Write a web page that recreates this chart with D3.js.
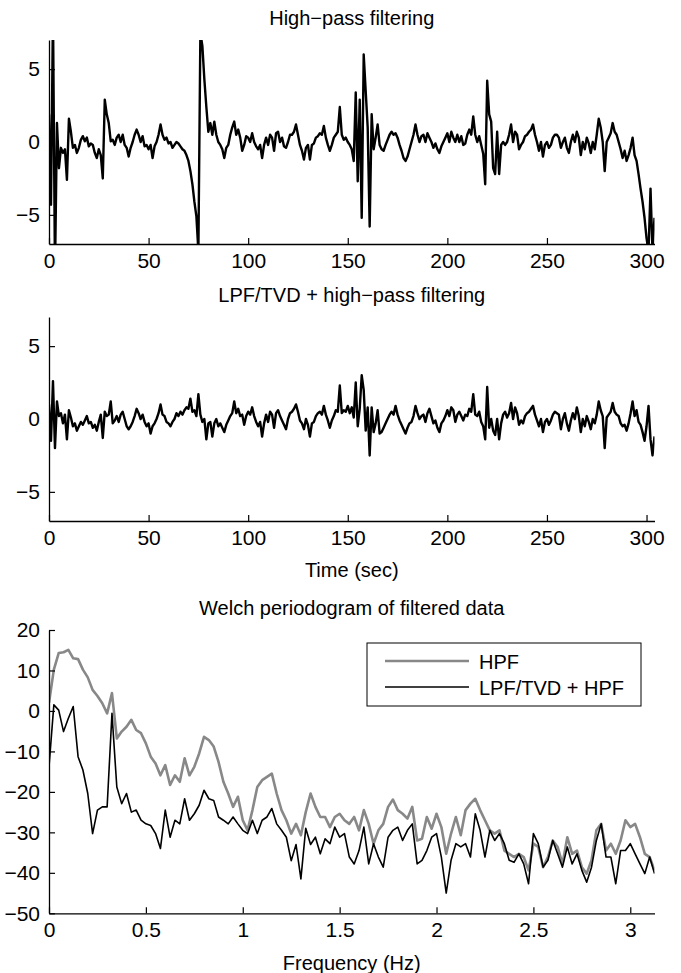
<!DOCTYPE html>
<html>
<head>
<meta charset="utf-8">
<script src="https://cdn.jsdelivr.net/npm/d3@7"></script>
<style>
  body { margin: 0; background: #fff; }
  svg text { font-family: "Liberation Sans", Arial, Helvetica, sans-serif; fill: #000; }
</style>
</head>
<body>
<div id="chart"></div>
<script>
// ---- data ----
// filtered signals, one sample per second, 0..304 s
const dt = 1;
const hpfSignal = [
  1.9, -4.3, 9, -9, 1.3, -1.8, -0.4, -0.75, -0.5, -2.6,
  1.6, 0.7, -0.4, -0.2, -0.75, -0.4, 0.15, 0.4, 0.05, 0.3,
  -0.3, -0.1, -0.2, -0.75, -1.1, -0.5, -0.9, -2.5, 2.9, 1.9,
  1.3, 0.05, 0.15, -0.2, 0.3, 0.5, 0, 0.5, -0.2, -0.4,
  -1.0, -0.4, 0, 0.5, 0.85, 0.5, 0, 0.4, -0.3, -0.2,
  -0.5, -0.2, -1.1, -0.3, 0, 0.5, 1.2, 0.5, 0.15, 0.3,
  -0.1, 0, -0.4, -0.2, 0, -0.1, -0.3, -0.5, -0.6, -0.9,
  -1.3, -2.0, -2.9, -4.1, -5.1, -7.5, 7.5, 6.6, 4.3, 2.4,
  0.7, 1.3, 0.5, 1.4, 0.5, 0, -0.2, -0.5, -1.1, -0.4,
  -0.2, 0.5, 1.0, 1.4, 0.5, 0.85, 0.3, -0.6, -0.2, 0.4,
  0.3, 0, 0.6, 0, -0.3, -0.5, -0.2, -1.1, -0.2, 0.3,
  -0.2, 0.5, 0.3, -0.6, 0.6, 0.7, 0, 0.3, -0.3, -0.4,
  0, 0.5, 0.5, 0.7, 1.2, 0.5, -0.2, -0.6, -1.2, -0.4,
  -0.2, -1.2, -0.2, -0.1, 0.3, 0.4, 0.6, 0.5, 1.1, 0.3,
  -0.2, -0.6, -0.2, 0.3, 0.5, 0.7, 2.4, 0.5, 0.15, 0.3,
  0, -0.2, -0.5, -1.3, 3.4, -2.7, 2.9, -5.2, 6.0, 3.5,
  1.0, -5.8, 1.9, -0.5, 0.3, 1.2, -0.2, -0.5, -0.6, -0.2,
  0.15, 0.5, 0.7, 0.5, 0.6, 0.3, -0.2, -0.6, -1.1, -1.3,
  -1.0, -0.5, 0, 0.5, 1.2, 0.5, 0, 0.4, 0.5, 0,
  0.6, 0.3, 0, -0.4, -0.1, -0.5, -0.75, -0.3, 0, 0.3,
  0.6, 0, 0.7, 0.3, 0, 0.5, 0, 0.4, -0.2, -0.1,
  0.5, 0.85, 0.5, 1.75, 0.5, 0, 0.4, -0.2, -0.8, -2.9,
  4.2, 1.9, 1.4, -1.8, -2.2, 0.7, -2.2, -0.2, 0, -0.2,
  0, 0.5, 1.2, 0, 0.7, 0.5, -0.5, -0.2, 0, 0.4,
  0.5, 0.7, 0.85, 1.2, 0.5, 0, -0.6, 0, -1.0, -0.2,
  0, -0.4, -0.2, 0.3, 0.5, 0.5, 0.3, -0.4, 0, 0.3,
  -0.4, -0.75, 0, 0.5, 0, 0.7, 0.3, -0.9, 0, -0.5,
  0.3, -0.1, -0.75, 0, -0.5, 0.5, 1.6, 1.0, 0, -2.0,
  0, 0.3, 0.6, 1.3, 0.7, 0.5, 0, -0.5, -1.1, -0.6,
  -1.3, -0.9, -0.4, 0.3, -0.9, -1.3, -2.2, -3.2, -4.1, -5.2,
  -6.6, -7.5, -3.2, -7.5, -5.2
];
const tvdSignal = [
  1.0, -1.5, 2.6, -2.0, 1.2, 0.2, 0.4, -0.3, 0.3, -1.4,
  0.6, 0.1, -0.5, -0.3, -0.8, -0.5, -0.2, -0.4, -0.1, 0.2,
  -0.3, -0.2, -0.6, -0.4, -0.8, -0.2, 0.3, -1.3, 0.5, 0.2,
  0.3, 1.2, -0.3, -0.1, 0.2, -0.2, 0.3, 0.5, 0, -0.5,
  -0.7, -0.5, -0.2, 0.2, 0.7, 0.4, 0, 0.3, -0.2, -0.5,
  -0.3, -1.0, -0.5, -0.3, 0, 0.4, 1.0, 0.3, 0.2, -0.2,
  -0.3, -0.5, -0.2, 0, 0.4, 0.2, 0.5, 0.3, 0.6, 0.8,
  0.7, 1.4, 0.5, 0.6, 0.2, 1.7, 0.3, -0.2, 0, -1.4,
  -0.3, -0.2, -1.2, -0.3, 0, -0.5, -0.3, -0.6, -0.9, -0.4,
  -0.1, 0.2, 0.4, 1.2, 0.4, 0.7, 0.2, 0.3, -0.4, 0.2,
  0.5, 0.3, 0.8, 0.2, -0.2, -0.5, -0.2, -1.2, -0.3, 0.3,
  -0.2, 0.5, 0.3, -0.6, 0.4, 0.6, 0.2, -0.1, -0.4, -0.7,
  0, 0.4, 0.5, 0.7, 1.0, 0.5, -0.1, -0.3, -0.7, 0,
  -0.4, -1.2, -0.3, -0.2, 0.2, 0.4, 0.5, 0.3, 0.9, 0.3,
  -0.1, -0.6, -0.1, 0.2, 0.6, 0.5, 2.3, 0.4, 0.6, 0.5,
  0.9, 0.4, 0.8, 0.1, 2.5, -0.5, 0.7, 3.0, 2.0, -0.8,
  0.8, -2.5, 0.8, -0.9, -0.3, 0.6, -1.0, -0.9, -0.6, -0.3,
  0, 0.3, 0.5, 0.3, 0.9, 0.3, -0.1, -0.4, -0.7, -1.0,
  -0.6, -0.3, -0.2, 0.2, 0.9, 0.4, 0, 0.2, 0.3, -0.2,
  0.4, 0.7, 0.2, -0.3, -0.1, -0.6, -0.9, -0.3, -0.1, 0.2,
  0.6, 0.2, 0.8, 0.6, -0.2, 0.3, 0.5, 0.2, -0.1, 0.3,
  0.2, 0.7, 0.5, 1.7, 0.3, 0.2, 0.5, -0.2, -0.5, -1.4,
  2.2, -0.6, 0, -0.8, -1.1, 0, -1.4, -0.3, 0.3, 0.5,
  0.1, 0.4, 1.1, 0, 0.8, 0.4, -0.4, -0.1, -0.3, 0.2,
  0.4, 0.5, 0.7, 0.9, 0.3, -0.1, -0.5, 0, -0.9, -0.2,
  0, -0.4, -0.1, 0.3, 0.5, 0.4, 0.3, -0.7, 0, 0.4,
  -0.3, -0.8, -0.1, 0.4, 0, 0.8, 0.2, -0.9, 0, -0.5,
  0.2, -0.2, -0.7, 0, -0.3, 0.3, 1.2, 0.6, 0.2, -2.0,
  0.1, 0.3, 0.5, 1.1, 0.5, 0.3, 0.2, -0.3, -0.5, -0.4,
  -0.8, -0.3, 0.4, 1.2, 0.2, 0.6, -0.2, -0.4, -0.9, -1.5,
  -0.5, 0.9, -1.4, -2.5, -1.2
];

// Welch periodogram (dB), 0..3.125 Hz every 0.025 Hz
const df = 0.025;
const psdHpf = [
  2, 10.2, 14.3, 14.5, 15.1, 13, 12.8, 10.2, 8.3, 5.2,
  3.7, 1.9, -0.6, 4.4, -6.8, -5.1, -3.9, -2.2, -4.7, -5.5,
  -8, -11.3, -13, -15.9, -13.4, -18.3, -15.9, -17.5, -11.7, -15.9,
  -13.8, -10.5, -6.4, -7.2, -8.8, -12.6, -17.5, -20.4, -23.7, -21.2,
  -27, -29.5, -24.5, -18.8, -17.1, -16.3, -15.5, -20.4, -24.5, -27,
  -30.3, -27.9, -30.7, -25, -20.4, -23.7, -26.2, -26.2, -28.7, -26.2,
  -25.4, -27, -27.9, -26.2, -29.5, -24.5, -27.9, -32.8, -29.5, -27.9,
  -23.7, -21.9, -24.5, -25.4, -26.6, -23.7, -32, -31.6, -26.2, -29.1,
  -25.4, -28.7, -35.3, -30.3, -26.2, -30.7, -24.5, -22.9, -21.7, -24.5,
  -27, -29.5, -30.3, -29.5, -34.5, -35.3, -36.1, -35.3, -36.1, -39.4,
  -32.8, -33.6, -38.6, -36.1, -32, -33.6, -37.8, -31.2, -35.3, -34.5,
  -38.6, -40.2, -36.9, -29.5, -27.9, -34.5, -32.8, -35.3, -32, -27,
  -28.7, -27.9, -31.2, -35.3, -36.1, -39.4
];
const psdTvd = [
  -13.8, 1.5, 0.2, -5.1, -1.8, 1.1, -11.3, -14.6, -20.4, -30.3,
  -24.5, -23.7, -23.7, -0.6, -18.8, -22.9, -20.4, -25, -24.5, -27,
  -27.9, -28.3, -30.3, -34, -24.5, -31.2, -27, -27.9, -21.7, -27,
  -25.4, -23.3, -19.6, -21.7, -22.1, -26.2, -27, -27.9, -26.2, -27.9,
  -29.5, -30.3, -27, -30.3, -27, -26.2, -24.1, -27.9, -29.5, -31.2,
  -37, -33, -41.5, -29, -33, -31.2, -35.3, -31.6, -32.8, -28.7,
  -31.2, -30.3, -36.1, -37.8, -34.5, -28.7, -37.8, -32.8, -36.1, -38.6,
  -31.2, -29.5, -28.7, -32, -29.5, -27.9, -37.8, -36.9, -34.5, -31.2,
  -30.3, -36.1, -45, -36.9, -32.8, -33.6, -32.8, -36.1, -25.4, -29.5,
  -36.1, -29.5, -32, -30.3, -32.8, -36.9, -37.4, -35.3, -37.8, -42.7,
  -30.3, -32.8, -38.6, -36.9, -32, -35.3, -38.6, -33.6, -37.8, -35.3,
  -39.4, -42.3, -38.6, -32, -27.9, -36.1, -36.1, -42.7, -34.5, -34.5,
  -32.8, -35.3, -37.8, -40.2, -36.1, -40.2
];

const timeTicks = [0, 50, 100, 150, 200, 250, 300];
const ampTicks = [-5, 0, 5];
const freqTicks = [0, 0.5, 1, 1.5, 2, 2.5, 3];
const dbTicks = [-50, -40, -30, -20, -10, 0, 10, 20];
const legendNames = ["HPF", "LPF/TVD + HPF"];
const legendColors = ["#888888", "#000000"];

// ---- drawing ----
const W = 681, H = 973;
const left = 49, right = 654.5;
const fontSize = 20, tickFontSize = 21;

const svg = d3.select("#chart").append("svg")
  .attr("width", W)
  .attr("height", H);

const fmt = d3.format("~g");

function axes(x, y, xTicks, yTicks) {
  const gx = svg.append("g")
    .attr("transform", "translate(0," + y.range()[0] + ")")
    .call(d3.axisBottom(x).tickValues(xTicks).tickFormat(fmt)
      .tickSizeInner(-6).tickSizeOuter(0).tickPadding(9));
  const gy = svg.append("g")
    .attr("transform", "translate(" + x.range()[0] + ",0)")
    .call(d3.axisLeft(y).tickValues(yTicks).tickFormat(fmt)
      .tickSizeInner(-6).tickSizeOuter(0).tickPadding(9));
  [gx, gy].forEach(function (g) {
    g.attr("font-size", tickFontSize).attr("font-family", null);
    g.select(".domain").attr("stroke", "#000").attr("stroke-width", 1.3);
    g.selectAll(".tick line").attr("stroke", "#000").attr("stroke-width", 1.2);
  });
}

function title(txt, cx, baseline) {
  svg.append("text")
    .attr("x", cx)
    .attr("y", baseline)
    .attr("text-anchor", "middle")
    .attr("font-size", fontSize)
    .text(txt);
}

function clip(id, x, y) {
  svg.append("clipPath").attr("id", id)
    .append("rect")
    .attr("x", x.range()[0])
    .attr("y", y.range()[1])
    .attr("width", x.range()[1] - x.range()[0])
    .attr("height", y.range()[0] - y.range()[1]);
}

// panels 1 and 2: time signals
const xTime = d3.scaleLinear().domain([0, 304]).range([left, right]);

function signalPanel(values, top, bottom, name, id) {
  const y = d3.scaleLinear().domain([-7, 7]).range([bottom, top]);
  clip(id, xTime, y);
  svg.append("path")
    .datum(values)
    .attr("clip-path", "url(#" + id + ")")
    .attr("fill", "none")
    .attr("stroke", "#000")
    .attr("stroke-width", 2.4)
    .attr("stroke-linejoin", "round")
    .attr("d", d3.line()
      .x(function (d, i) { return xTime(i * dt); })
      .y(function (d) { return y(d); }));
  axes(xTime, y, timeTicks, ampTicks);
  title(name, (left + right) / 2, top - 15);
}

signalPanel(hpfSignal, 40, 244, "High\u2212pass filtering", "c1");
signalPanel(tvdSignal, 317, 521, "LPF/TVD + high\u2212pass filtering", "c2");
title("Time (sec)", (left + right) / 2, 577);

// panel 3: periodogram
const xFreq = d3.scaleLinear().domain([0, 3.125]).range([left, right]);
const yDb = d3.scaleLinear().domain([-50, 20]).range([913.3, 630]);
clip("c3", xFreq, yDb);

const psdLine = d3.line()
  .x(function (d, i) { return xFreq(i * df); })
  .y(function (d) { return yDb(d); });

[psdHpf, psdTvd].forEach(function (series, k) {
  svg.append("path")
    .datum(series)
    .attr("clip-path", "url(#c3)")
    .attr("fill", "none")
    .attr("stroke", legendColors[k])
    .attr("stroke-width", k === 0 ? 2.6 : 1.6)
    .attr("stroke-linejoin", "round")
    .attr("d", psdLine);
});

axes(xFreq, yDb, freqTicks, dbTicks);
title("Welch periodogram of filtered data", (left + right) / 2, 615);
title("Frequency (Hz)", (left + right) / 2, 970);

// legend
const legend = svg.append("g").attr("transform", "translate(367,643)");
legend.append("rect")
  .attr("width", 274)
  .attr("height", 63)
  .attr("fill", "#fff")
  .attr("stroke", "#000")
  .attr("stroke-width", 1);
legendNames.forEach(function (name, k) {
  const yy = 18 + k * 26;
  legend.append("line")
    .attr("x1", 18).attr("x2", 102)
    .attr("y1", yy).attr("y2", yy)
    .attr("stroke", legendColors[k])
    .attr("stroke-width", k === 0 ? 2.6 : 1.6);
  legend.append("text")
    .attr("x", 112)
    .attr("y", yy + 8)
    .attr("font-size", fontSize)
    .text(name);
});
</script>
</body>
</html>
